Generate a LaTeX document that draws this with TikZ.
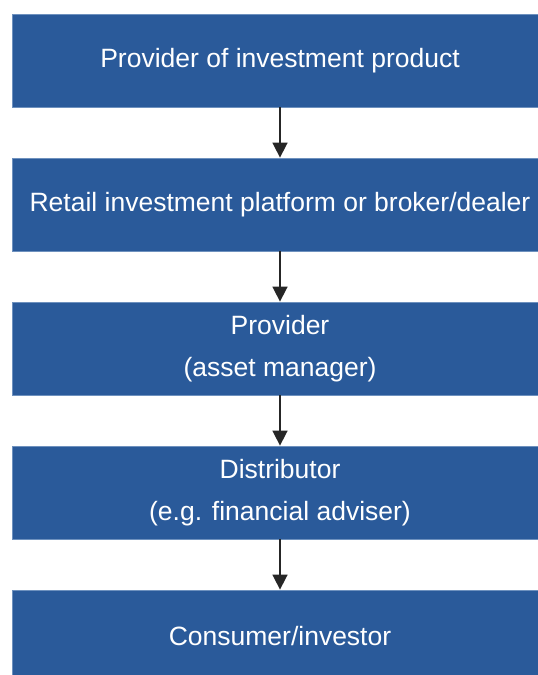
\documentclass[tikz,border=0pt]{standalone}
\usepackage{fontspec}
\setmainfont{Liberation Sans}
\usetikzlibrary{arrows.meta}
\definecolor{boxblue}{RGB}{42,90,154}
\definecolor{edgeblue}{RGB}{110,145,190}
\tikzset{
  box/.style={rectangle, fill=boxblue, draw=edgeblue, line width=0.8pt,
    minimum width=535pt, minimum height=93pt, inner sep=0pt,
    text=white, align=center, font=\fontsize{26.5}{42}\selectfont},
  flow/.style={draw=black!85, line width=1.6pt,
    -{Triangle[width=15pt,length=15pt]}}
}
\begin{document}
\begin{tikzpicture}[x=1pt,y=-1pt]
\useasboundingbox (0,0) rectangle (538,675);
\node[box] (b1) at (280,60.5) {Provider of investment product};
\node[box] (b2) at (280,204.5) {Retail investment platform or broker/dealer};
\node[box] (b3) at (280,348.5) {Provider\\(asset manager)};
\node[box] (b4) at (280,492.5) {Distributor\\(e.g. financial adviser)};
\node[box] (b5) at (280,636.5) {Consumer/investor};
\draw[flow] (b1.south) -- (b2.north);
\draw[flow] (b2.south) -- (b3.north);
\draw[flow] (b3.south) -- (b4.north);
\draw[flow] (b4.south) -- (b5.north);
\end{tikzpicture}
\end{document}
